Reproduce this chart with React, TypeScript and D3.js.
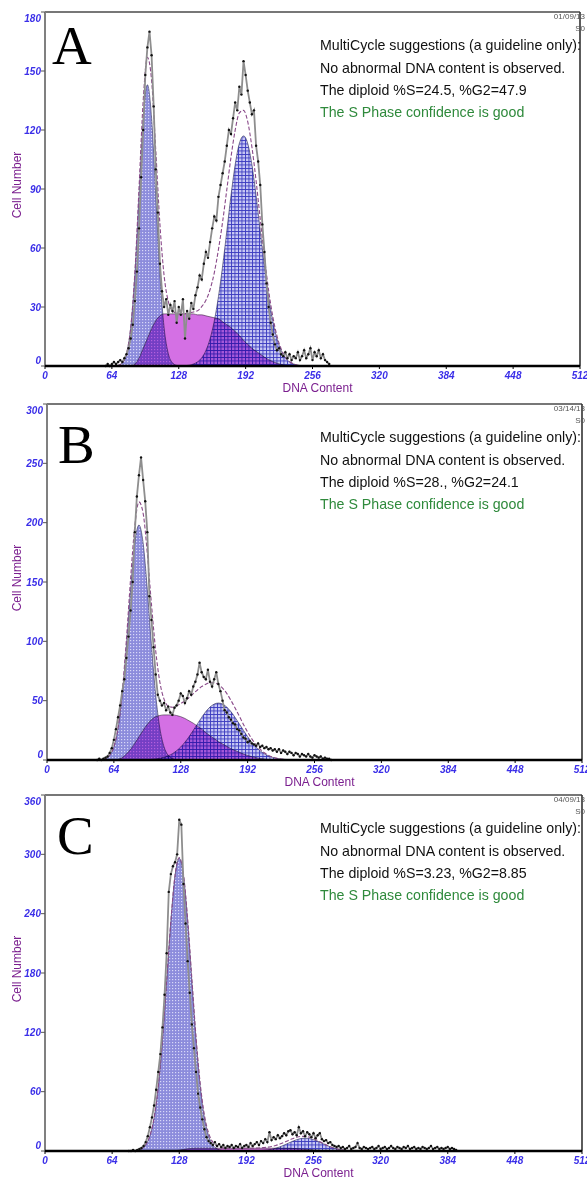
import React from "react";
import * as d3 from "d3";

// ---- panel A (01/09/13) ----
const obsStartA = 58; // channel of first observed point, step 2
const obsA = [
  0, 1, 0, 1, 2, 1, 2, 3, 2, 4,
  6, 9, 14, 21, 33, 48, 70, 96, 120, 148,
  162, 170, 158, 132, 100, 78, 52, 38, 30, 34,
  26, 31, 28, 33, 22, 30, 26, 34, 14, 28,
  24, 32, 29, 36, 40, 46, 44, 52, 58, 55,
  63, 70, 76, 74, 86, 92, 98, 104, 112, 120,
  118, 126, 134, 130, 142, 138, 155, 148, 140, 134,
  128, 130, 112, 104, 92, 72, 58, 42, 30, 22,
  16, 11, 8, 9, 6, 5, 7, 4, 6, 3,
  5, 4, 7, 3, 5, 8, 4, 6, 9, 3,
  7, 5, 8, 4, 6, 3, 2, 1,
];
const fitStartA = 58; // channel of first model point, step 4
const g1A = [
  0, 0, 0, 0.3, 1.6, 6.3, 19.4, 46.4, 86.7, 126.2,
  143, 126.2, 86.7, 46.4, 19.4, 6.3, 1.6, 0.3, 0, 0,
  0, 0, 0, 0, 0, 0, 0, 0, 0, 0,
  0, 0, 0, 0, 0, 0, 0, 0, 0, 0,
  0, 0, 0, 0, 0, 0, 0, 0, 0, 0,
  0, 0,
];
const sA = [
  0, 0, 0, 0, 0, 0, 0, 1, 4, 9,
  14, 19, 23, 25.5, 26.5, 26.5, 26.5, 26.5, 26.5, 26.5,
  26.5, 26.5, 26, 26, 25.5, 25, 24.5, 24, 22.5, 21,
  19.5, 17.5, 15.5, 13, 11, 9, 7.5, 6, 4.5, 3.2,
  2.2, 1.4, 0.8, 0.4, 0.2, 0, 0, 0, 0, 0,
  0, 0,
];
const g2A = [
  0, 0, 0, 0, 0, 0, 0, 0, 0, 0,
  0, 0, 0, 0, 0, 0, 0, 0, 0, 0.2,
  0.4, 1.0, 2.1, 4.2, 7.9, 13.9, 22.9, 35.3, 50.9, 68.7,
  86.7, 102.4, 113.2, 117, 113.2, 102.4, 86.7, 68.7, 50.9, 35.3,
  22.9, 13.9, 7.9, 4.2, 2.1, 1.0, 0.4, 0.2, 0, 0,
  0, 0,
];

// ---- panel B (03/14/13) ----
const obsStartB = 48;
const obsB = [
  0, 1, 0, 1, 2, 3, 6, 10, 17, 26,
  36, 46, 58, 68, 86, 104, 126, 150, 192, 222,
  240, 255, 236, 218, 192, 138, 118, 95, 72, 55,
  50, 46, 48, 42, 45, 40, 38, 44, 46, 50,
  56, 54, 48, 52, 58, 55, 62, 66, 72, 82,
  74, 70, 68, 76, 66, 62, 68, 74, 64, 58,
  50, 42, 40, 36, 34, 31, 30, 26, 25, 22,
  19, 18, 15, 16, 14, 13, 12, 14, 11, 12,
  10, 11, 9, 10, 8, 9, 7, 9, 6, 8,
  7, 5, 7, 6, 4, 6, 5, 3, 5, 4,
  3, 5, 3, 2, 4, 3, 2, 3, 1, 2,
  1, 1, 0,
];
const fitStartB = 48;
const g1B = [
  0, 0.3, 1.2, 3.9, 11.1, 26.8, 55.0, 96.4, 143.8, 182.8,
  198, 182.8, 143.8, 96.4, 55.0, 26.8, 11.1, 3.9, 1.2, 0.3,
  0, 0, 0, 0, 0, 0, 0, 0, 0, 0,
  0, 0, 0, 0, 0, 0, 0, 0, 0, 0,
  0, 0, 0, 0, 0, 0, 0, 0, 0, 0,
  0, 0, 0, 0,
];
const sB = [
  0, 0, 0, 0, 0, 0.5, 2, 5, 9, 14,
  19.5, 25, 30, 34, 36.5, 37.5, 38, 38, 38, 37.5,
  36.5, 35, 33, 31, 28.5, 26, 23, 20.5, 18, 15.5,
  13.5, 11.5, 9.5, 8, 6.5, 5, 3.8, 2.8, 2, 1.3,
  0.8, 0.4, 0.2, 0, 0, 0, 0, 0, 0, 0,
  0, 0, 0, 0,
];
const g2B = [
  0, 0, 0, 0, 0, 0, 0, 0, 0, 0,
  0, 0.1, 0.3, 0.5, 0.8, 1.4, 2.2, 3.5, 5.3, 7.8,
  11.0, 15.0, 19.7, 25.0, 30.5, 35.9, 40.8, 44.6, 47.1, 48,
  47.1, 44.6, 40.8, 35.9, 30.5, 25.0, 19.7, 15.0, 11.0, 7.8,
  5.3, 3.5, 2.2, 1.4, 0.8, 0.5, 0.3, 0.1, 0, 0,
  0, 0, 0, 0,
];

// ---- panel C (04/09/13) ----
const obsStartC = 80;
const obsC = [
  0, 0, 1, 0, 1, 2, 3, 5, 9, 15,
  24, 34, 46, 62, 80, 98, 125, 158, 200, 262,
  280, 288, 292, 300, 335, 330, 270, 230, 192, 160,
  128, 104, 80, 58, 44, 32, 22, 14, 10, 8,
  6, 9, 5, 7, 4, 6, 3, 5, 4, 6,
  3, 5, 4, 7, 3, 5, 6, 4, 8, 5,
  7, 9, 6, 10, 8, 12, 9, 19, 11, 14,
  12, 16, 13, 15, 18, 16, 20, 21, 17, 19,
  16, 24, 18, 20, 15, 19, 17, 14, 18, 13,
  16, 18, 12, 10, 11, 8, 9, 6, 5, 4,
  5, 3, 4, 2, 3, 5, 2, 3, 4, 8,
  3, 2, 4, 3, 2, 3, 4, 2, 3, 5,
  2, 3, 4, 2, 3, 5, 3, 2, 4, 3,
  2, 4, 3, 5, 2, 3, 4, 2, 3, 2,
  4, 3, 2, 3, 5, 2, 3, 4, 2, 3,
  2, 3, 4, 2, 3, 2, 1,
];
const fitStartC = 80;
const g1C = [
  0, 0.2, 0.7, 2.2, 6.2, 15.3, 33.5, 65.2, 112.5, 171.8,
  232.3, 278.6, 296, 278.6, 232.3, 171.8, 112.5, 65.2, 33.5, 15.3,
  6.2, 2.2, 0.7, 0.2, 0, 0, 0, 0, 0, 0,
  0, 0, 0, 0, 0, 0, 0, 0, 0, 0,
  0, 0, 0, 0, 0, 0, 0, 0, 0, 0,
  0, 0, 0, 0, 0, 0, 0, 0, 0, 0,
  0,
];
const sC = [
  0, 0, 0, 0, 0, 0, 0, 0, 0, 0,
  0, 0.3, 0.8, 1.5, 2.2, 2.6, 2.8, 2.8, 2.8, 2.8,
  2.8, 2.8, 2.8, 2.8, 2.8, 2.8, 2.8, 2.8, 2.8, 2.8,
  2.8, 2.8, 2.8, 2.8, 2.8, 2.8, 2.8, 2.8, 2.8, 2.6,
  2.4, 2.1, 1.8, 1.4, 1.1, 0.8, 0.5, 0.3, 0.1, 0,
  0, 0, 0, 0, 0, 0, 0, 0, 0, 0,
  0,
];
const g2C = [
  0, 0, 0, 0, 0, 0, 0, 0, 0, 0,
  0, 0, 0, 0, 0, 0, 0, 0, 0, 0,
  0, 0, 0, 0, 0, 0, 0, 0, 0, 0,
  0.1, 0.3, 0.6, 1.0, 1.8, 2.8, 4.2, 6.0, 7.9, 9.8,
  11.5, 12.6, 13, 12.6, 11.5, 9.8, 7.9, 6.0, 4.2, 2.8,
  1.8, 1.0, 0.6, 0.3, 0.1, 0, 0, 0, 0, 0,
  0,
];

// ---- text / axes ----
const panelLetters = ["A", "B", "C"];
const dates = ["01/09/13", "03/14/13", "04/09/13"];
const diploidLines = [
  "The diploid %S=24.5, %G2=47.9",
  "The diploid %S=28., %G2=24.1",
  "The diploid %S=3.23, %G2=8.85",
];
const yMaxes = [180, 300, 360];
const yTickSteps = [30, 50, 60];
const xTicks = [0, 64, 128, 192, 256, 320, 384, 448, 512];

const panels = [
  { obsStart: obsStartA, obs: obsA, fitStart: fitStartA, g1: g1A, s: sA, g2: g2A },
  { obsStart: obsStartB, obs: obsB, fitStart: fitStartB, g1: g1B, s: sB, g2: g2B },
  { obsStart: obsStartC, obs: obsC, fitStart: fitStartC, g1: g1C, s: sC, g2: g2C },
];

// pixel boxes of the three plots
const layout = [
  { top: 12, bottom: 366, left: 45, right: 580, lx: 52, ly: 64 },
  { top: 404, bottom: 760, left: 47, right: 582, lx: 58, ly: 463 },
  { top: 795, bottom: 1151, left: 45, right: 582, lx: 57, ly: 854 },
];

const SANS = "'Liberation Sans', Arial, sans-serif";
const TICK_BLUE = "#3a2ee8";
const PURPLE = "#7b1f8f";

function Panel({ i }: { i: number }) {
  const L = layout[i];
  const d = panels[i];
  const yMax = yMaxes[i];
  const x = d3.scaleLinear().domain([0, 512]).range([L.left, L.right]);
  const y = d3.scaleLinear().domain([0, yMax]).range([L.bottom, L.top]);

  const fitX = (k: number) => x(d.fitStart + k * 4);
  const area = d3
    .area<number>()
    .x((_, k) => fitX(k))
    .y0(L.bottom)
    .y1((v) => y(v))
    .curve(d3.curveMonotoneX);
  const total = d.g1.map((v, k) => v + d.s[k] + d.g2[k]);
  const fitLine = d3
    .line<number>()
    .x((_, k) => fitX(k))
    .y((v) => y(v))
    .curve(d3.curveMonotoneX);
  const obsLine = d3
    .line<number>()
    .x((_, k) => x(d.obsStart + k * 2))
    .y((v) => y(v));

  const yTicks = d3.range(0, yMax + 1, yTickSteps[i]);
  const tx = 320;

  return (
    <g>
      {/* model components */}
      <path d={area(d.s) || ""} fill="#d470e4" stroke="#3a2a40" strokeWidth={0.6} />
      <path d={area(d.g1) || ""} fill="url(#dots)" stroke="#2a2a50" strokeWidth={0.6}
        style={{ mixBlendMode: "multiply" }} />
      <path d={area(d.g2) || ""} fill="url(#grid)" stroke="#2a2a50" strokeWidth={0.6}
        style={{ mixBlendMode: "multiply" }} />
      <path d={fitLine(total) || ""} fill="none" stroke="#8a4a8a" strokeWidth={1.1} strokeDasharray="4 2" />

      {/* observed histogram */}
      <path d={obsLine(d.obs) || ""} fill="none" stroke="#8e8e8e" strokeWidth={1.8} />
      {d.obs.map((v, k) => (
        <circle key={k} cx={x(d.obsStart + k * 2)} cy={y(v)} r={1.2} fill="#111" />
      ))}

      {/* frame */}
      <line x1={L.left} x2={L.right} y1={L.top} y2={L.top} stroke="#777" strokeWidth={2} />
      <line x1={L.right} x2={L.right} y1={L.top} y2={L.bottom} stroke="#333" strokeWidth={1.6} />
      <line x1={L.left} x2={L.left} y1={L.top} y2={L.bottom} stroke="#808080" strokeWidth={2} />
      <line x1={L.left} x2={L.right} y1={L.bottom} y2={L.bottom} stroke="#000" strokeWidth={2.5} />

      {/* y axis */}
      {yTicks.map((t) => {
        const ty = Math.min(Math.max(y(t), L.top + 6), L.bottom - 6);
        return (
          <g key={t}>
            <line x1={L.left - 4} x2={L.left} y1={y(t)} y2={y(t)} stroke="#555" strokeWidth={1} />
            <text x={L.left - 4} y={ty + 3.6} textAnchor="end" fontFamily={SANS} fontSize={10}
              fontStyle="italic" fontWeight="bold" fill={TICK_BLUE}>{t}</text>
          </g>
        );
      })}
      <text transform={`translate(21,${(L.top + L.bottom) / 2 - 4}) rotate(-90)`} textAnchor="middle"
        fontFamily={SANS} fontSize={12} fill={PURPLE}>Cell Number</text>

      {/* x axis */}
      {xTicks.map((t) => (
        <g key={t}>
          <line x1={x(t)} x2={x(t)} y1={L.bottom} y2={L.bottom + 3} stroke="#000" strokeWidth={1} />
          <text x={x(t)} y={L.bottom + 13} textAnchor="middle" fontFamily={SANS} fontSize={10}
            fontStyle="italic" fontWeight="bold" fill={TICK_BLUE}>{t}</text>
        </g>
      ))}
      <text x={(L.left + L.right) / 2 + 5} y={L.bottom + 26} textAnchor="middle" fontFamily={SANS}
        fontSize={12} fill={PURPLE}>DNA Content</text>

      {/* annotations */}
      <text x={L.lx} y={L.ly} fontFamily="'Liberation Serif', 'Times New Roman', serif" fontSize={55}
        fill="#000">{panelLetters[i]}</text>
      <text x={585} y={L.top + 7} textAnchor="end" fontFamily={SANS} fontSize={8} fill="#555">{dates[i]}</text>
      <text x={585} y={L.top + 19} textAnchor="end" fontFamily={SANS} fontSize={8} fill="#555">S0</text>
      <g fontFamily={SANS} fontSize={14.2}>
        <text x={tx} y={L.top + 38} fill="#111">MultiCycle suggestions (a guideline only):</text>
        <text x={tx} y={L.top + 61} fill="#111">No abnormal DNA content is observed.</text>
        <text x={tx} y={L.top + 83} fill="#111">{diploidLines[i]}</text>
        <text x={tx} y={L.top + 105} fill="#2f8a3c">The S Phase confidence is good</text>
      </g>
    </g>
  );
}

export default function App() {
  return (
    <svg width={587} height={1183} style={{ position: "absolute", left: 0, top: 0, background: "#fff" }}>
      <defs>
        <pattern id="dots" width={3} height={3} patternUnits="userSpaceOnUse">
          <rect width={3} height={3} fill="#8c8cdc" />
          <rect x={1} y={1} width={1.2} height={1.2} fill="#d8d8f8" />
        </pattern>
        <pattern id="grid" width={3.5} height={3.5} patternUnits="userSpaceOnUse">
          <rect width={3.5} height={3.5} fill="#c8c8f4" />
          <rect width={3.5} height={0.9} fill="#3c3cc0" />
          <rect width={0.9} height={3.5} fill="#3c3cc0" />
        </pattern>
      </defs>
      <rect width={587} height={1183} fill="#fff" />
      {[0, 1, 2].map((i) => (
        <Panel key={i} i={i} />
      ))}
    </svg>
  );
}
